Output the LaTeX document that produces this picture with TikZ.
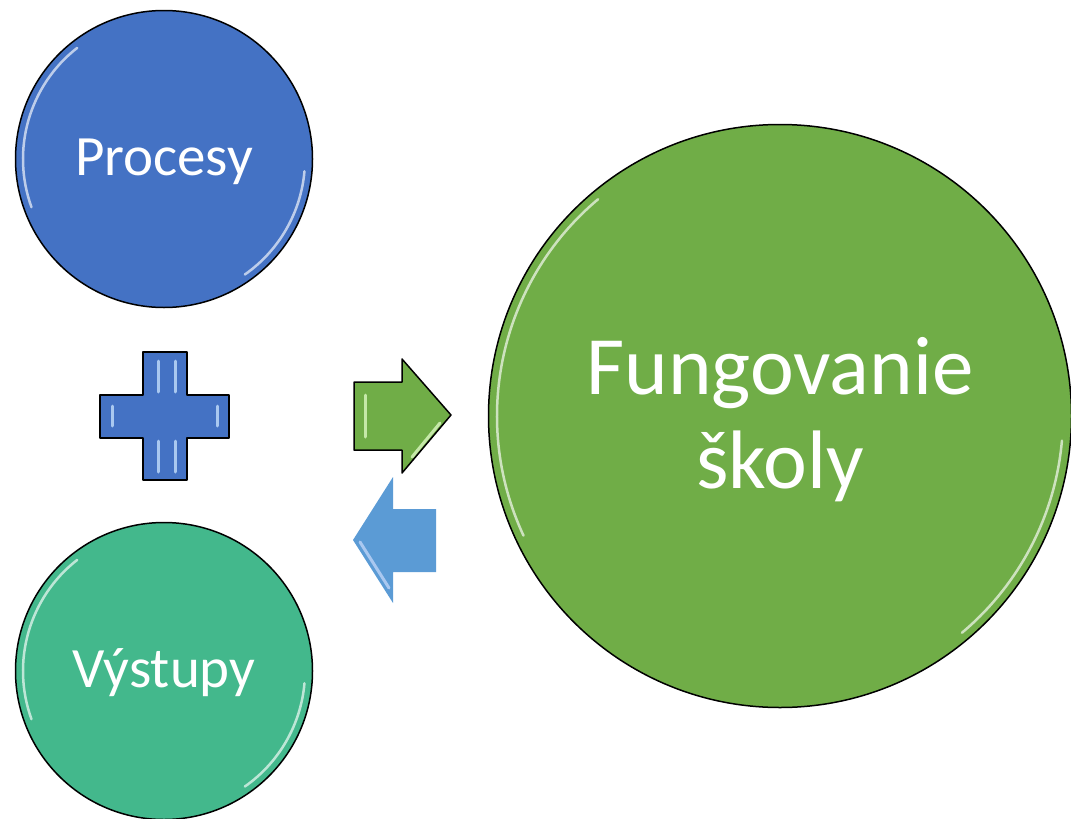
\documentclass[tikz,border=0pt]{standalone}
\usepackage{fontspec}
\setmainfont{Carlito}
\definecolor{procblue}{HTML}{4472C4}
\definecolor{schoolgreen}{HTML}{70AD47}
\definecolor{outteal}{HTML}{43B88C}
\definecolor{backblue}{HTML}{5B9BD5}
\definecolor{paleblue}{HTML}{A9C8F0}
\definecolor{palegreen}{HTML}{C5E8A8}
\tikzset{
  bubble/.style={circle, draw=black, line width=1.5pt, text=white, align=center, inner sep=0pt},
  smalltext/.style={font=\fontsize{57}{68}\selectfont, text height=37pt, text depth=4pt},
  shine/.style={white, opacity=0.65, line width=2.5pt, line cap=round},
  signshape/.style={draw=black, line width=1.5pt, line join=round},
}
\begin{document}
\begin{tikzpicture}[x=1pt,y=-1pt]
  \useasboundingbox (0,0) rectangle (1071,819);
  \draw
    (164,159) node[bubble, smalltext, fill=procblue, minimum size=297pt] (procesy){Procesy}
    (164,671) node[bubble, smalltext, fill=outteal, minimum size=297pt] (vystupy){Výstupy}
    (780,416) node[bubble, fill=schoolgreen, minimum size=583pt, font=\fontsize{83}{94}\selectfont] (skola){\rule{0pt}{64pt}Fungovanie\\školy};
  \coordinate (plus) at (165,416);
  \coordinate (forth) at (402,415);
  \coordinate (back) at (393,540);
  % bevel shine on the circles
  \draw[shine] (procesy.center) ++(-200:141) arc[start angle=-200, end angle=-128, radius=141];
  \draw[shine] (procesy.center) ++(5:141) arc[start angle=5, end angle=55, radius=141];
  \draw[shine] (vystupy.center) ++(-200:141) arc[start angle=-200, end angle=-128, radius=141];
  \draw[shine] (vystupy.center) ++(5:141) arc[start angle=5, end angle=55, radius=141];
  \draw[shine] (skola.center) ++(-205:283) arc[start angle=-205, end angle=-130, radius=283];
  \draw[shine] (skola.center) ++(5:283) arc[start angle=5, end angle=50, radius=283];
  % plus sign
  \begin{scope}[shift={(plus)}]
    \draw[signshape, fill=procblue]
      (-22,-64) -- (22,-64) -- (22,-21) -- (64,-21) -- (64,22) -- (22,22) -- (22,64)
      -- (-22,64) -- (-22,22) -- (-65,22) -- (-65,-21) -- (-22,-21) -- cycle;
    \begin{scope}[paleblue, line width=3pt, line cap=round]
      \draw (-7,-55) -- (-7,-24);
      \draw (10,-55) -- (10,-24);
      \draw (-7,25) -- (-7,56);
      \draw (10,25) -- (10,56);
      \draw (-53,-10) -- (-53,10);
      \draw (52,-10) -- (52,10);
    \end{scope}
  \end{scope}
  % arrow towards the school
  \begin{scope}[shift={(forth)}]
    \draw[signshape, fill=schoolgreen]
      (-48,-33) -- (0,-33) -- (0,-56) -- (49,0) -- (0,58) -- (0,35) -- (-48,35) -- cycle;
    \draw[palegreen, line width=3pt, line cap=round] (-37,-20) -- (-37,22);
    \draw[palegreen, line width=3pt, line cap=round] (10,42) -- (38,8);
  \end{scope}
  % arrow back from the school
  \begin{scope}[shift={(back)}]
    \fill[backblue]
      (43,-31) -- (0,-31) -- (0,-63) -- (-40,0) -- (0,63) -- (0,32) -- (43,32) -- cycle;
    \draw[paleblue, line width=3pt, line cap=round] (-33,2) -- (-4,48);
  \end{scope}
\end{tikzpicture}
\end{document}
